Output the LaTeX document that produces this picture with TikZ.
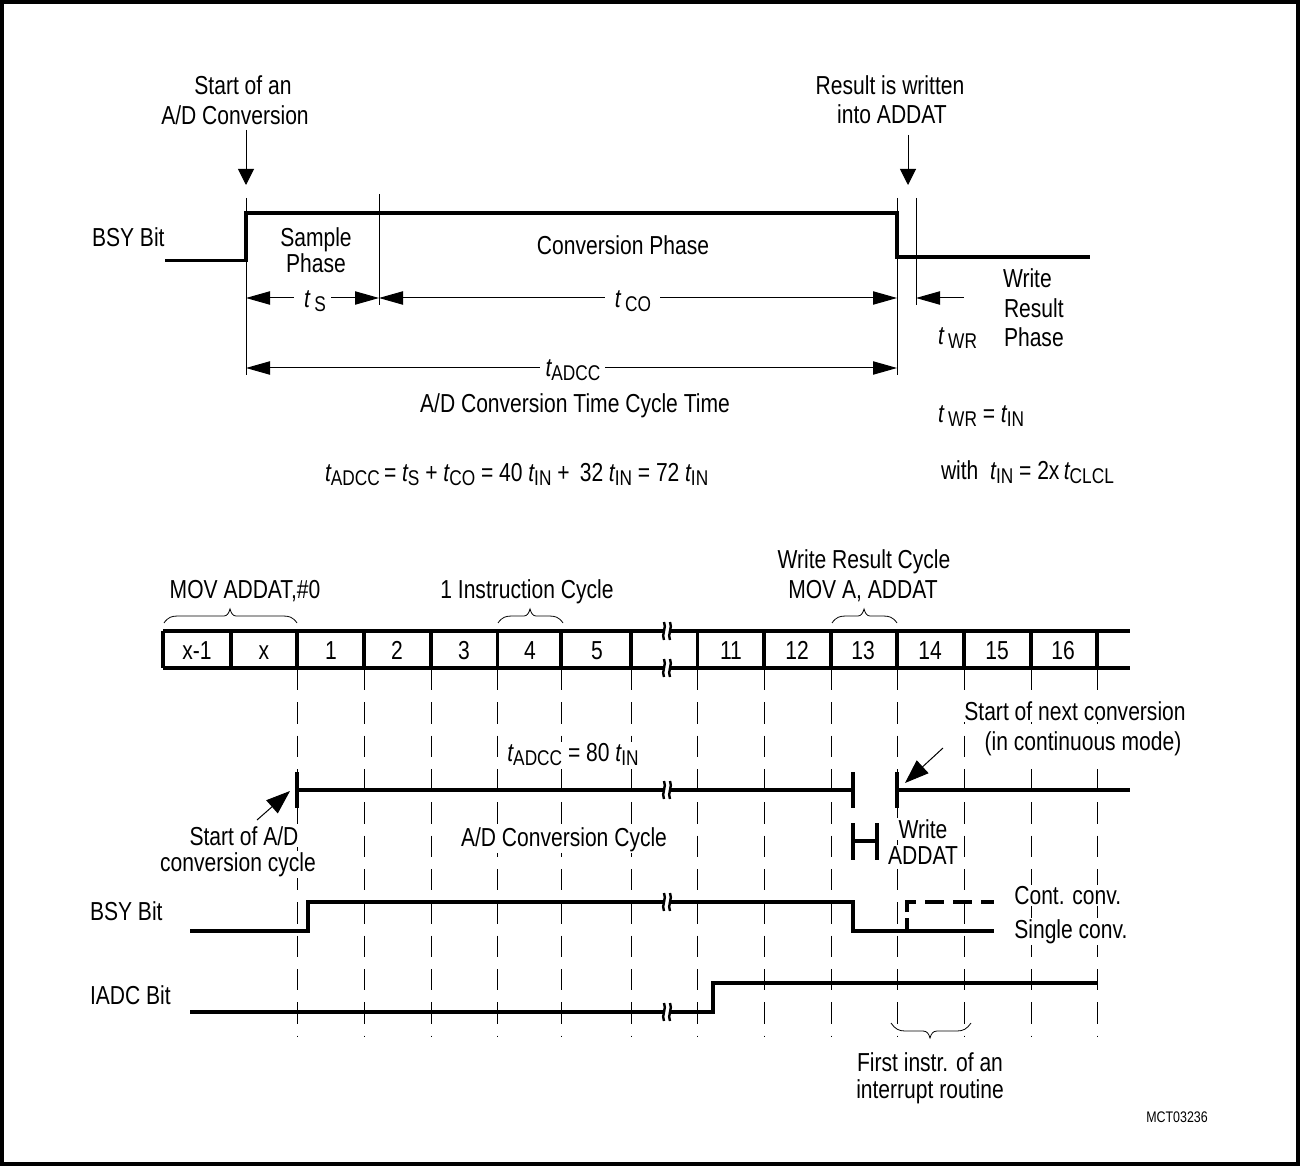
\documentclass[tikz,border=0pt]{standalone}
\usepackage{fontspec}
\setmainfont[FakeStretch=0.81]{Liberation Sans}
\usetikzlibrary{arrows.meta}
\newcommand{\fsz}{\fontsize{19.5}{21}\selectfont}
\newcommand{\T}[1]{{\itshape t}\raisebox{-3pt}{\fontsize{16}{17}\selectfont #1}}
\newcommand{\Tt}[1]{{\itshape t}\,\raisebox{-3pt}{\fontsize{16}{17}\selectfont #1}}
\newcommand{\brk}[2]{%
  \fill[white] (#1-3,#2-3) rectangle (#1+3,#2+3);
  \draw[brkline] (#1-3,#2-9) .. controls (#1,#2-4) and (#1-6,#2+4) .. (#1-3,#2+9);
  \draw[brkline] (#1+3,#2-9) .. controls (#1+6,#2-4) and (#1,#2+4) .. (#1+3,#2+9);
}
\newcommand{\bracetop}[3]{% left, centre, right
  \draw[thinl,line width=0.6pt] (#1,623) .. controls (#1+4,617) and (#1+8,616) .. (#1+14,616)
    -- (#2-6,616) .. controls (#2-3,616) and (#2-1,613) .. (#2,609)
    .. controls (#2+1,613) and (#2+3,616) .. (#2+6,616)
    -- (#3-14,616) .. controls (#3-8,616) and (#3-4,617) .. (#3,623);
}
\tikzset{
  txt/.style={inner sep=0pt,outer sep=0pt,font=\fsz,anchor=base,yshift=-1pt},
  txtl/.style={txt,anchor=base west},
  wht/.style={fill=white,inner sep=1pt},
  thinl/.style={line width=0.75pt,black},
  sig/.style={line width=2.8pt,black,line join=miter},
  mid/.style={line width=2.8pt,black,line join=miter},
  brkline/.style={line width=1.8pt,black},
  grid/.style={line width=0.75pt,black,dash pattern=on 16pt off 9pt},
  head/.style={-{Triangle[length=18pt,width=10pt]},thinl},
  hhead/.style={{Triangle[length=18pt,width=10pt]}-,thinl},
  point/.style={-{Triangle[length=12pt,width=12pt]},thinl},
  slant/.style={-{Triangle[length=18pt,width=13pt]},thinl}
}
\begin{document}
\begin{tikzpicture}[x=0.75pt,y=-0.75pt]
\useasboundingbox (0,0) rectangle (1300,1166);
\draw[line width=2.6pt] (2,2) rectangle (1298,1164);

% top timing
\draw[thinl] (246,198) -- (246,375);
\draw[thinl] (379,194) -- (379,305);
\draw[thinl] (897,198) -- (897,375);
\draw[thinl] (916,198) -- (916,305);
\draw[sig] (165,260.5) -- (246,260.5) -- (246,213) -- (897,213) -- (897,257) -- (1090,257);
\draw[point] (246,130) -- (246,185);
\draw[point] (908,135) -- (908,185);

% dimensions
\draw[hhead] (246,298) -- (294,298);
\draw[head] (331,298) -- (379,298);
\draw[hhead] (379,298) -- (605,298);
\draw[head] (660,298) -- (897,298);
\draw[hhead] (916,298) -- (964,298);
\draw[hhead] (246,368) -- (540,368);
\draw[head] (605,368) -- (897,368);

% top labels
\node[txt] (n1) at (243,93) {Start of an};
\node[txt] (n2) at (235,123) {A/D Conversion};
\node[txt] (n3) at (890,93) {Result is written};
\node[txt] (n4) at (892,122) {into ADDAT};
\node[txtl] (n5) at (92,245) {BSY Bit};
\node[txt] (n6) at (316,245) {Sample};
\node[txt] (n7) at (316,271) {Phase};
\node[txt] (n8) at (623,253) {Conversion Phase};
\node[txt] (n9) at (315,306) {\Tt{S}};
\node[txt] (n10) at (633,306) {\Tt{CO}};
\node[txtl] (n11) at (938,343) {\Tt{WR}};
\node[txtl] (n12) at (1003,286) {Write};
\node[txtl] (n13) at (1004,316) {Result};
\node[txtl] (n14) at (1004,345) {Phase};
\node[txt] (n15) at (573,375) {\T{ADCC}};
\node[txt] (n16) at (575,411) {A/D Conversion Time Cycle Time};
\node[txtl] (n17) at (938,421) {\Tt{WR} = \T{IN}};
\node[txtl] (n18) at (325,480) {\T{ADCC}\,=\,\kern1pt\T{S} + \T{CO} = 40\,\kern1pt\T{IN} +\, 32\,\kern1pt\T{IN} = 72\,\kern1pt\T{IN}};
\node[txtl] (n19) at (941,478) {with \ \T{IN} = 2x\,\T{CLCL}};

% bus labels
\node[txt] (n20) at (864,567) {Write Result Cycle};
\node[txt] (n21) at (863,597) {MOV A, ADDAT};
\node[txt] (n22) at (245,597) {MOV ADDAT,\#0};
\node[txt] (n23) at (527,597) {1 Instruction Cycle};
\bracetop{164}{230}{297}
\bracetop{498}{530}{563}
\bracetop{832}{864}{897}

% grid
\foreach \gx in {297,364,431,497.5,561,631,697.5,764,831,897,964,1031,1097}
  \draw[grid] (\gx,669) -- (\gx,1037);

% bus
\draw[sig] (163,631) -- (1130,631);
\draw[sig] (163,668) -- (1130,668);
\foreach \bx in {163,231,297,364,431,497.5,561,631,697.5,764,831,897,964,1031,1097}
  \draw[mid] (\bx,631) -- (\bx,668);
\brk{667}{631}
\brk{667}{668}
\foreach \lx/\lt in {197/x-1,264/x,331/1,397/2,464/3,530/4,597/5,731/11,797/12,863/13,930/14,997/15,1063/16}
  \node[txt] (c\lx) at (\lx,658) {\lt};

% conversion cycle
\draw[mid] (297,790) -- (853,790);
\draw[mid] (897,790) -- (1130,790);
\draw[sig] (297,772) -- (297,808);
\draw[sig] (853,772) -- (853,808);
\draw[sig] (897,772) -- (897,808);
\draw[sig] (853,823) -- (853,860);
\draw[sig] (877,823) -- (877,860);
\draw[mid] (853,841) -- (877,841);
\brk{667}{790}
\draw[slant] (257,820) -- (290,791);
\draw[slant] (943,748) -- (905,783);
\node[txt,wht] (n24) at (573,760) {\T{ADCC} = 80 \T{IN}};
\node[txt,wht] (n25) at (1075,719) {Start of next conversion};
\node[txt,wht] (n26) at (1083,749) {(in continuous mode)};
\node[txt,wht] (n27) at (244,844) {Start of A/D};
\node[txt,wht] (n28) at (238,870) {conversion cycle};
\node[txt,wht] (n29) at (564,845) {A/D Conversion Cycle};
\node[txt,wht] (n30) at (923,837) {Write};
\node[txt,wht] (n31) at (923,863) {ADDAT};

% BSY and IADC
\draw[mid] (190,931) -- (308,931) -- (308,902) -- (853,902) -- (853,931) -- (994,931);
\brk{667}{902}
\draw[sig] (907,931) -- (907,918);
\draw[sig,dash pattern=on 14pt off 7pt] (907,912) -- (907,902) -- (994,902);
\draw[mid] (190,1012) -- (713,1012) -- (713,983) -- (1097,983);
\brk{667}{1012}
\node[txtl] (n32) at (90,919) {BSY Bit};
\node[txtl] (n33) at (90,1003) {IADC Bit};
\node[txtl,wht] (n34) at (1013,903) {Cont. conv.};
\node[txtl,wht] (n35) at (1013,937) {Single conv.};

% bottom brace
\draw[thinl,line width=0.6pt] (891,1023) .. controls (895,1029) and (899,1031) .. (905,1031)
  -- (923,1031) .. controls (927,1031) and (929,1034) .. (930,1038)
  .. controls (931,1034) and (933,1031) .. (937,1031)
  -- (957,1031) .. controls (963,1031) and (967,1029) .. (971,1023);
\node[txt] (n36) at (930,1070) {First instr. of an};
\node[txt] (n37) at (930,1097) {interrupt routine};
\node[txt,font=\fontsize{11.5}{12}\selectfont] (n38) at (1177,1121) {MCT03236};
\end{tikzpicture}
\end{document}
